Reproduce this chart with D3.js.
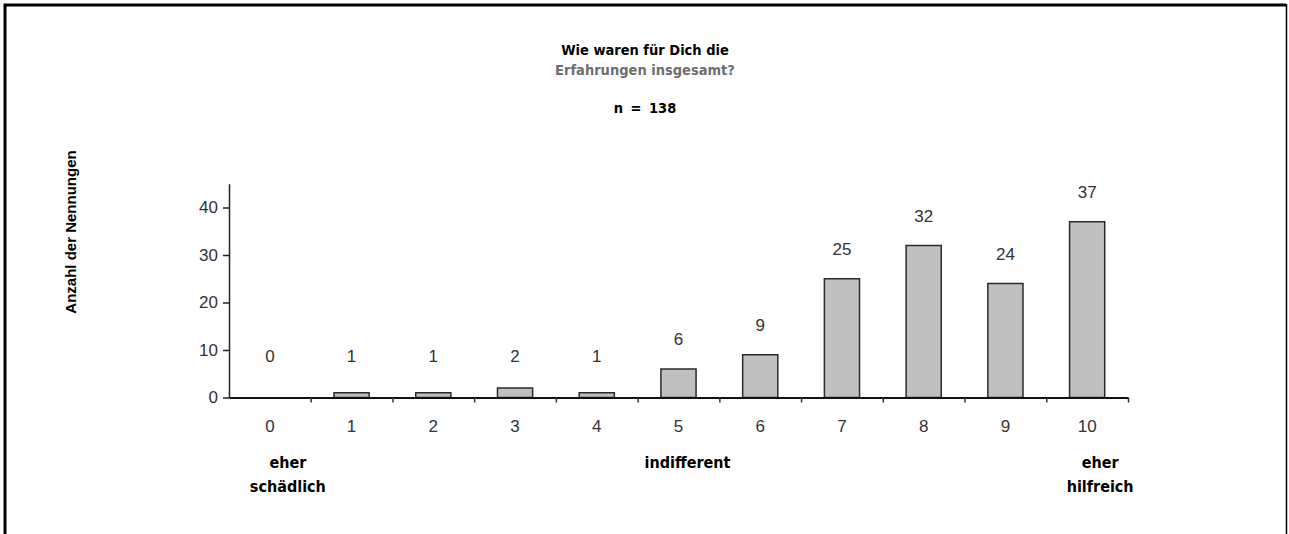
<!DOCTYPE html>
<html>
<head>
<meta charset="utf-8">
<script src="https://cdn.jsdelivr.net/npm/d3@7"></script>
<style>
  body { margin: 0; background: #fff; }
  svg { display: block; }
</style>
</head>
<body>
<svg id="chart" width="1289" height="534"></svg>
<script>
// Rating scale 0..10 and how often each rating was given
const categories = ["0", "1", "2", "3", "4", "5", "6", "7", "8", "9", "10"];
const counts = [0, 1, 1, 2, 1, 6, 9, 25, 32, 24, 37];
const yTicks = [0, 10, 20, 30, 40];

const titleLine1 = "Wie waren für Dich die";
const titleLine2 = "Erfahrungen insgesamt?";
const sampleNote = "n = 138";
const yAxisTitle = "Anzahl der Nennungen";
const scaleNotes = [
  { cat: "0", lines: ["eher", "schädlich"], dx: 18 },
  { cat: "5", lines: ["indifferent"], dx: 9 },
  { cat: "10", lines: ["eher", "hilfreich"], dx: 13 }
];

const svg = d3.select("#chart");
const W = 1289, H = 534;

const labelFont = "'Liberation Sans', Arial, sans-serif";
const boldFont = "'DejaVu Sans Condensed', 'DejaVu Sans', sans-serif";

// Outer frame (open at the bottom)
svg.append("path")
  .attr("d", `M5,${H} V5 H1286`)
  .attr("fill", "none").attr("stroke", "#000").attr("stroke-width", 3);
svg.append("line")
  .attr("x1", 1286.5).attr("x2", 1286.5).attr("y1", 4).attr("y2", H)
  .attr("stroke", "#000").attr("stroke-width", 1.5);

// Plot geometry
const left = 229, right = 1128, y0 = 397.5, yTop = 183.75;

const xSlot = d3.scaleBand().domain(categories).range([left, right]).padding(0);
const xEdge = d3.scaleLinear().domain([0, categories.length]).range([left, right]);
const y = d3.scaleLinear().domain([0, 45]).range([y0, yTop]);
const barW = xSlot.bandwidth() * 0.43;
const mid = c => xSlot(c) + xSlot.bandwidth() / 2;

// Bars
svg.append("g").selectAll("rect")
  .data(counts)
  .join("rect")
  .attr("x", (d, i) => mid(categories[i]) - barW / 2)
  .attr("width", barW)
  .attr("y", d => y(d))
  .attr("height", d => y0 - y(d))
  .attr("fill", "#c0c0c0")
  .attr("stroke", "#2a2a2a")
  .attr("stroke-width", 1.5);

// Y axis
const yAxis = svg.append("g")
  .attr("transform", `translate(${left},0)`)
  .call(d3.axisLeft(y).tickValues(yTicks).tickSize(6).tickSizeOuter(0).tickPadding(5));
yAxis.select(".domain").attr("stroke", "#222").attr("stroke-width", 1.5);
yAxis.selectAll(".tick line").attr("stroke", "#222").attr("stroke-width", 1.5);
yAxis.selectAll(".tick text")
  .attr("font-family", labelFont).attr("font-size", 17).attr("fill", "#333");

// X axis: line with ticks at category boundaries
const xAxis = svg.append("g")
  .attr("transform", `translate(0,${y0})`)
  .call(d3.axisBottom(xEdge).tickValues(d3.range(1, categories.length + 1))
    .tickFormat("").tickSize(5).tickSizeOuter(0));
xAxis.select(".domain").attr("stroke", "#111").attr("stroke-width", 2);
xAxis.selectAll(".tick line").attr("stroke", "#333").attr("stroke-width", 1.5);

// X category labels
const xLabels = svg.append("g")
  .attr("transform", `translate(0,${y0 + 22})`)
  .call(d3.axisBottom(xSlot).tickSize(0).tickPadding(0));
xLabels.select(".domain").remove();
xLabels.selectAll(".tick text")
  .attr("font-family", labelFont).attr("font-size", 17).attr("fill", "#333");

// Value labels above bars
svg.append("g").selectAll("text")
  .data(counts)
  .join("text")
  .attr("x", (d, i) => mid(categories[i]))
  .attr("y", d => Math.min(y(d), y(2.5)) - 24)
  .attr("text-anchor", "middle")
  .attr("font-family", labelFont).attr("font-size", 17).attr("fill", "#333")
  .text(d => d);

// Titles
const cx = 645;
const title = svg.append("g")
  .attr("text-anchor", "middle").attr("font-family", boldFont)
  .attr("font-weight", "bold").attr("font-size", 14.5);
title.append("text").attr("x", cx).attr("y", 55).attr("fill", "#000").text(titleLine1);
title.append("text").attr("x", cx).attr("y", 75).attr("fill", "#6e6e6e").text(titleLine2);
title.append("text").attr("x", cx).attr("y", 113).attr("fill", "#000")
  .attr("word-spacing", 3).text(sampleNote);

// Y axis title
svg.append("text")
  .attr("transform", `translate(76,232) rotate(-90)`)
  .attr("text-anchor", "middle").attr("font-family", labelFont)
  .attr("font-weight", "bold").attr("font-size", 15).attr("fill", "#000")
  .text(yAxisTitle);

// Scale anchors under the axis
const notes = svg.append("g")
  .attr("text-anchor", "middle").attr("font-family", boldFont)
  .attr("font-weight", "bold").attr("font-size", 16).attr("fill", "#000");
scaleNotes.forEach(n => {
  const t = notes.append("text").attr("y", 468);
  n.lines.forEach((l, i) => {
    t.append("tspan").attr("x", mid(n.cat) + n.dx)
      .attr("dy", i === 0 ? 0 : 24).text(l);
  });
});
</script>
</body>
</html>
